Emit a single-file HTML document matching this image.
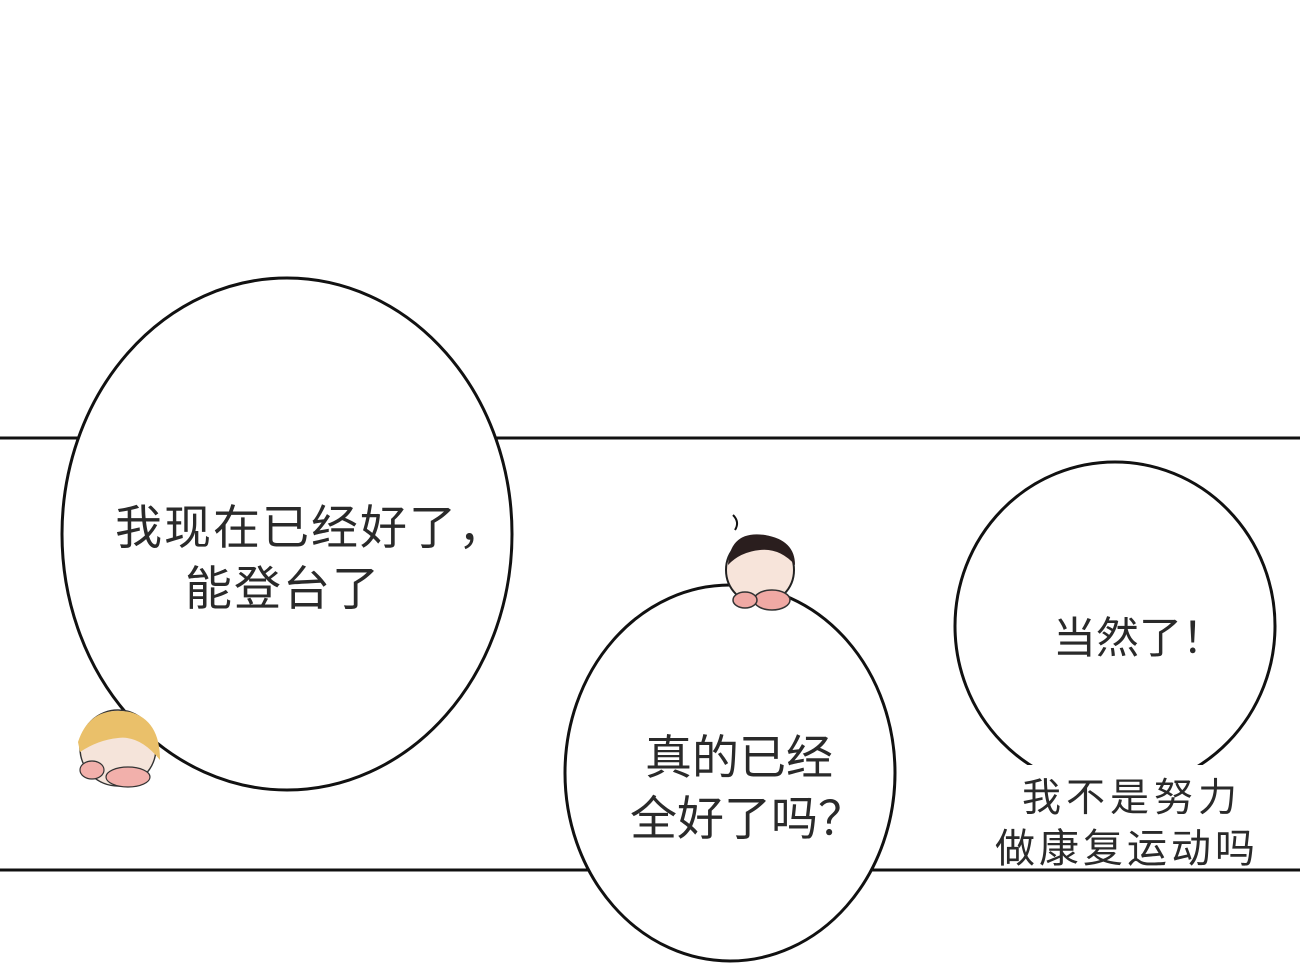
<!DOCTYPE html>
<html><head><meta charset="utf-8"><style>
html,body{margin:0;padding:0;background:#fff;width:1300px;height:965px;overflow:hidden}
svg{display:block}
text{font-family:"Liberation Sans","Noto Sans CJK SC",sans-serif;fill:#2a2a2a}
</style></head><body>
<svg width="1300" height="965" viewBox="0 0 1300 965">
<line x1="0" y1="438" x2="1300" y2="438" stroke="#111" stroke-width="3"/>
<line x1="0" y1="870" x2="1300" y2="870" stroke="#111" stroke-width="3"/>
<ellipse cx="287" cy="534" rx="225" ry="256" fill="#fff" stroke="#111" stroke-width="3"/>
<ellipse cx="730" cy="773" rx="165" ry="188" fill="#fff" stroke="#111" stroke-width="3"/>
<ellipse cx="1115" cy="626" rx="160" ry="164" fill="#fff" stroke="#111" stroke-width="3"/>
<rect x="990" y="765" width="280" height="100" fill="#fff"/>
<text x="115" y="544" font-size="47" letter-spacing="2">我现在已经好了，</text>
<text x="185" y="605" font-size="47" letter-spacing="2">能登台了</text>
<text x="645" y="774" font-size="47">真的已经</text>
<text x="630" y="835" font-size="47">全好了吗？</text>
<text x="1053" y="653" font-size="43">当然了！</text>
<text x="1022" y="811" font-size="39" letter-spacing="5">我不是努力</text>
<text x="995" y="862" font-size="40" letter-spacing="4">做康复运动吗</text>
<g>
<path d="M735 530 Q740 522 733 515" stroke="#111" stroke-width="2" fill="none"/>
<circle cx="760" cy="570" r="34" fill="#f7e4da" stroke="#222" stroke-width="2"/>
<path d="M728 565 Q730 530 765 535 Q795 540 795 565 Q780 548 760 550 Q740 552 728 565Z" fill="#2a1e1e"/>
<ellipse cx="772" cy="600" rx="18" ry="10" fill="#f0a9a4" stroke="#333" stroke-width="1.5"/>
<ellipse cx="745" cy="600" rx="12" ry="8" fill="#f0a9a4" stroke="#333" stroke-width="1.5"/>
</g>
<g>
<circle cx="118" cy="748" r="38" fill="#f5e4da" stroke="#333" stroke-width="1.5"/>
<path d="M78 742 Q90 705 130 712 Q160 720 160 760 Q140 735 118 738 Q98 740 80 752Z" fill="#eac06a"/>
<ellipse cx="128" cy="777" rx="22" ry="10" fill="#f2b0ab" stroke="#333" stroke-width="1.2"/>
<ellipse cx="92" cy="770" rx="12" ry="9" fill="#f2b0ab" stroke="#333" stroke-width="1.2"/>
</g>
</svg>
</body></html>
